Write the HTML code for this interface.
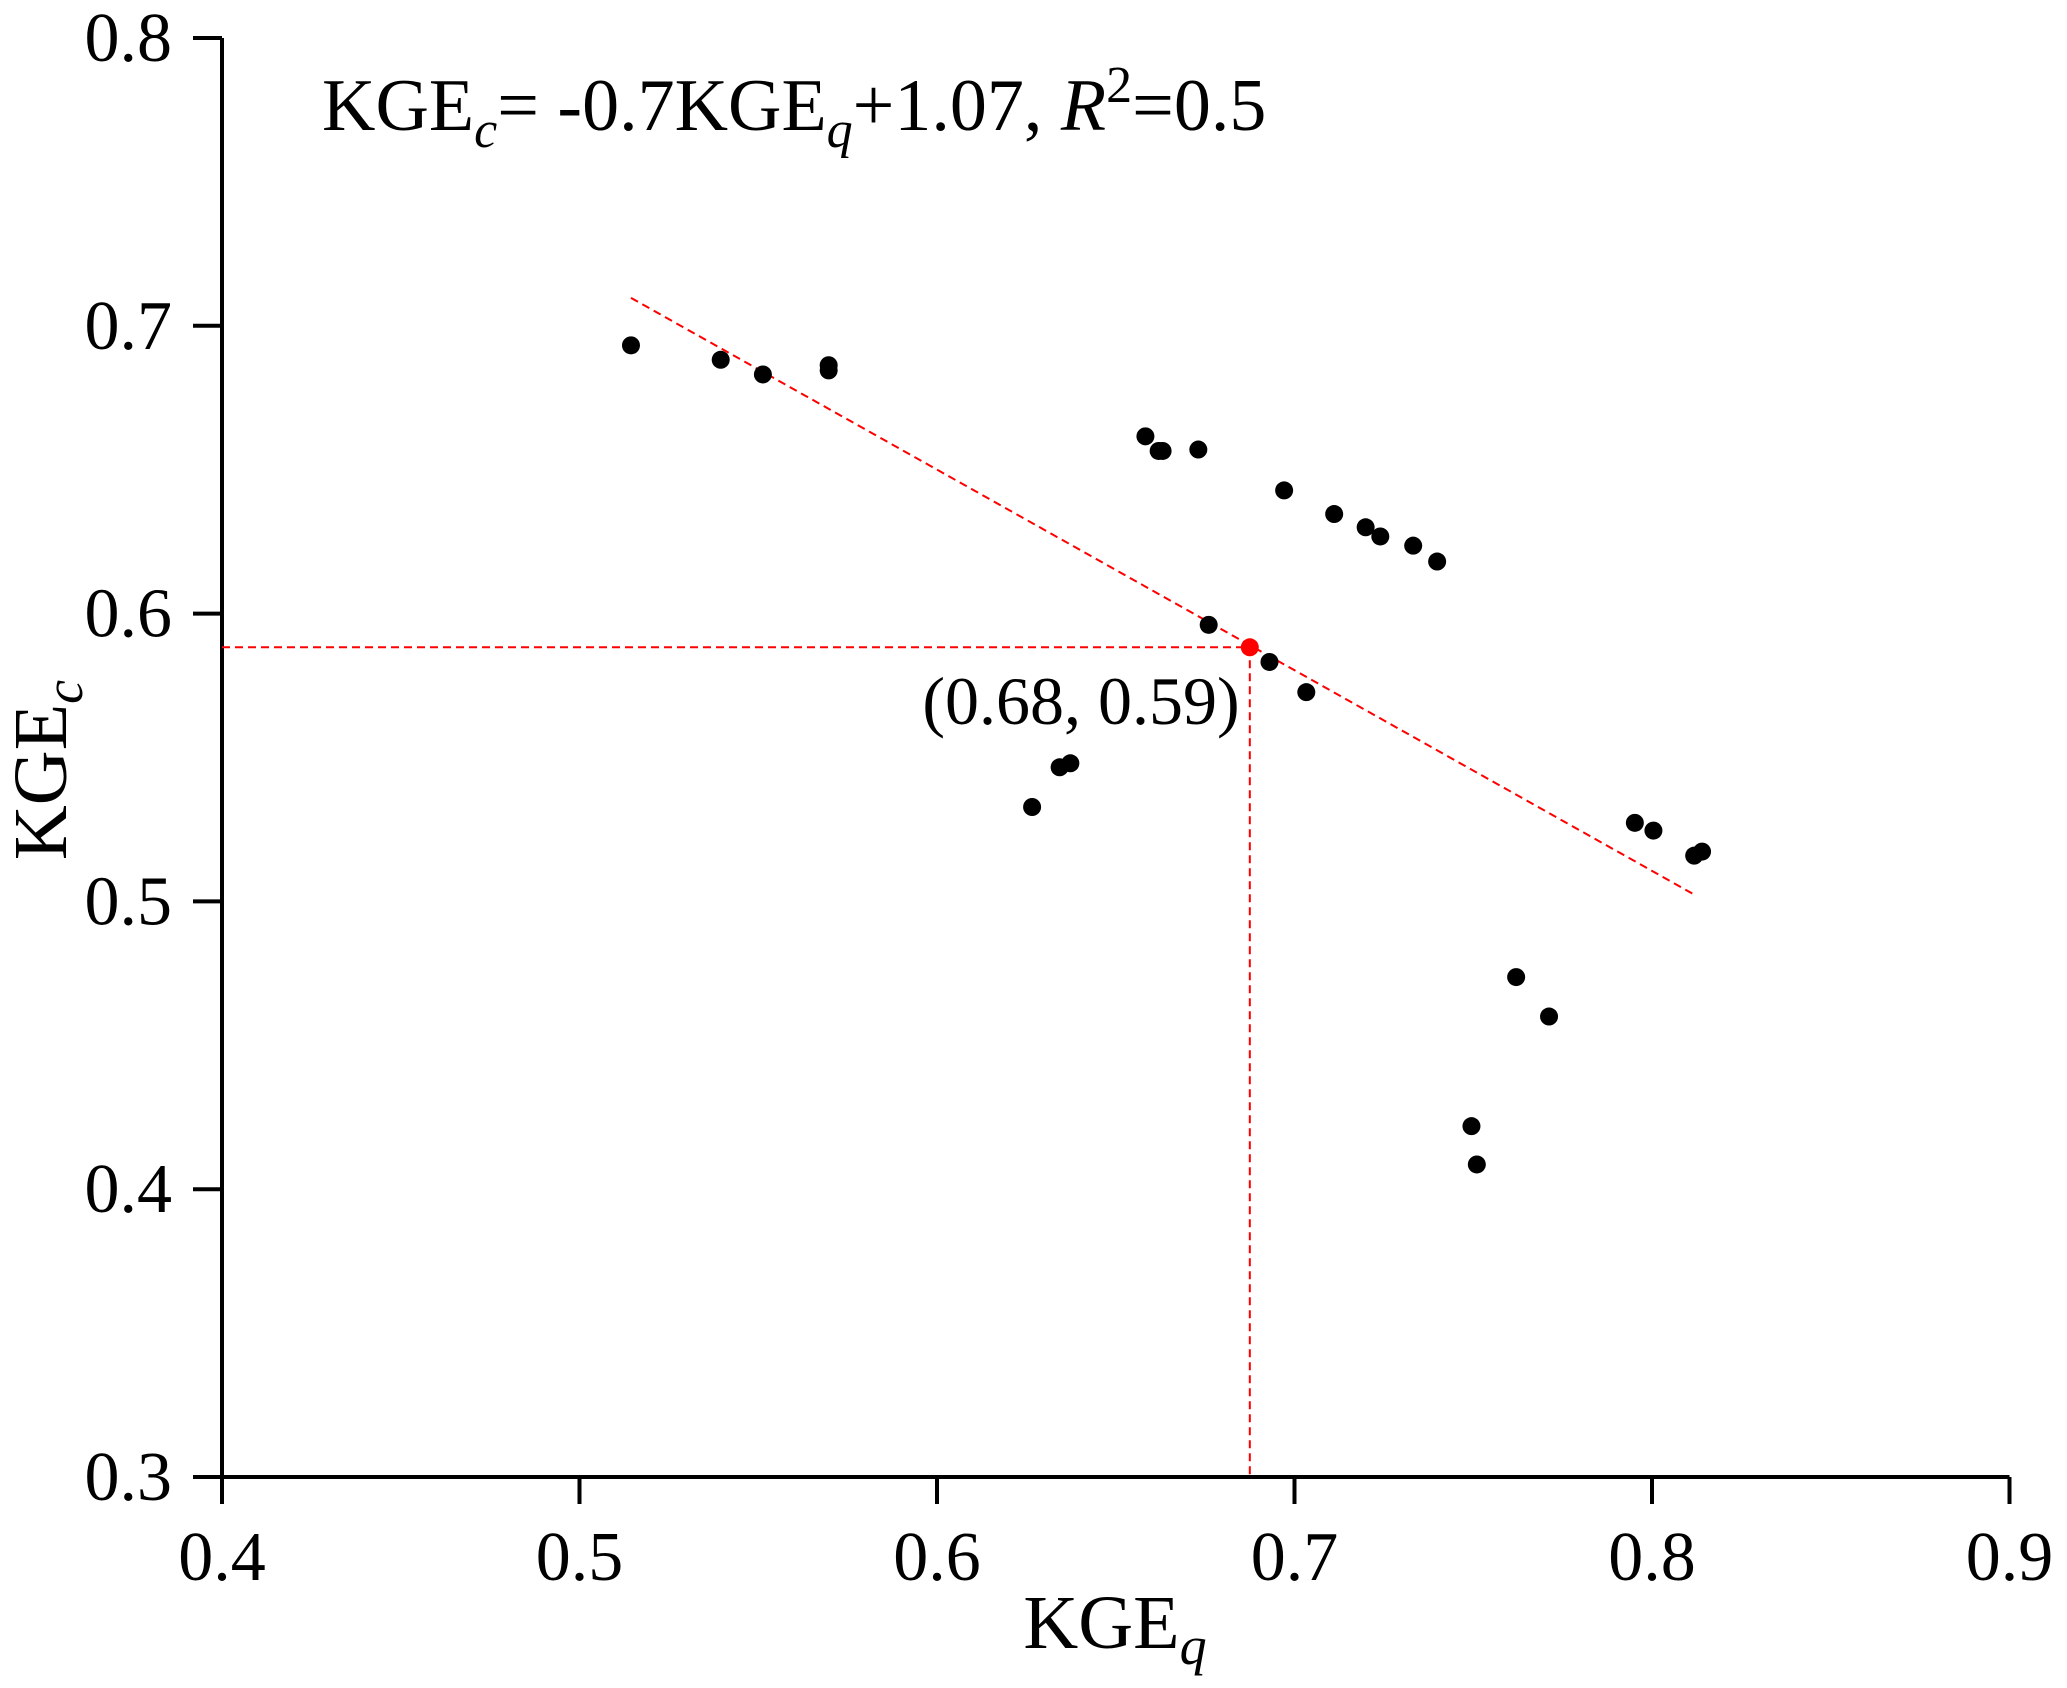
<!DOCTYPE html>
<html><head><meta charset="utf-8"><style>
html,body{margin:0;padding:0;background:#fff;}
svg{display:block;font-family:"Liberation Serif",serif;}
</style></head><body>
<svg id="chart" width="2067" height="1688" viewBox="0 0 2067 1688" xmlns="http://www.w3.org/2000/svg">
<g id="axes"></g>
<g id="lines"></g>
<g id="points"></g>
<text x="322" y="130" font-size="74">KGE<tspan font-style="italic" font-size="52" dy="17">c</tspan><tspan dy="-17">= -0.7KGE</tspan><tspan font-style="italic" font-size="52" dy="17">q</tspan><tspan dy="-17">+1.07, </tspan><tspan font-style="italic">R</tspan><tspan font-size="52" dy="-28">2</tspan><tspan dy="28">=0.5</tspan></text>
<text x="1081" y="724" font-size="68" text-anchor="middle">(0.68, 0.59)</text>
<text x="1115" y="1648" font-size="76" text-anchor="middle">KGE<tspan font-style="italic" font-size="54" dy="16">q</tspan></text>
<text transform="translate(66,770) rotate(-90)" font-size="76" text-anchor="middle">KGE<tspan font-style="italic" font-size="54" dy="16">c</tspan></text>
</svg>
<script>
const xTicks=[0.4,0.5,0.6,0.7,0.8,0.9];
const yTicks=[0.3,0.4,0.5,0.6,0.7,0.8];
const xTickLabels=["0.4","0.5","0.6","0.7","0.8","0.9"];
const yTickLabels=["0.3","0.4","0.5","0.6","0.7","0.8"];
const kgeQ=[0.5144,0.5395,0.5513,0.5697,0.5697,0.6583,0.662,0.6631,0.6731,0.6971,0.7111,0.7199,0.724,0.7332,0.7399,0.676,0.693,0.7033,0.6266,0.6343,0.6373,0.7952,0.8004,0.8118,0.814,0.762,0.7712,0.7495,0.751];
const kgeC=[0.6932,0.6882,0.6831,0.6863,0.6845,0.6616,0.6565,0.6565,0.657,0.6428,0.6346,0.630,0.6268,0.6236,0.6181,0.5961,0.5832,0.5727,0.5328,0.5466,0.548,0.5273,0.5246,0.5159,0.5173,0.4737,0.46,0.4219,0.4086];
const highlight=[0.6875,0.5883];
const fitX=[0.5144,0.8122];
const fitY=[0.7097,0.5021];

const X=v=>222+(v-0.4)*3575;
const Y=v=>1477-(v-0.3)*2878;
const NS="http://www.w3.org/2000/svg";
function mk(tag,attrs,parent){const e=document.createElementNS(NS,tag);for(const k in attrs)e.setAttribute(k,attrs[k]);parent.appendChild(e);return e;}
const axes=document.getElementById('axes');
let a=mk('line',{x1:X(0.4),y1:Y(0.3),x2:X(0.9),y2:Y(0.3),stroke:'#000','stroke-width':4},axes);


a=mk('line',{x1:X(0.4),y1:Y(0.3),x2:X(0.4),y2:Y(0.8),stroke:'#000','stroke-width':4},axes);


xTicks.forEach((t,i)=>{
 const l=mk('line',{x1:X(t),y1:Y(0.3),x2:X(t),y2:Y(0.3)+27,stroke:'#000','stroke-width':4},axes);
 
 
 const tx=mk('text',{x:X(t),y:1580,'font-size':70,'text-anchor':'middle'},axes);
 tx.textContent=xTickLabels[i];
 
 
});
yTicks.forEach((t,i)=>{
 const l=mk('line',{x1:X(0.4)-29,y1:Y(t),x2:X(0.4),y2:Y(t),stroke:'#000','stroke-width':4},axes);
 
 
 const tx=mk('text',{x:172,y:Y(t)+23,'font-size':70,'text-anchor':'end'},axes);
 tx.textContent=yTickLabels[i];
 
 
});
const lines=document.getElementById('lines');
let d=mk('line',{x1:X(fitX[0]),y1:Y(fitY[0]),x2:X(fitX[1]),y2:Y(fitY[1]),stroke:'#ff0000','stroke-width':2,'stroke-dasharray':'8,5'},lines);


d=mk('line',{x1:X(0.4),y1:Y(highlight[1]),x2:X(highlight[0]),y2:Y(highlight[1]),stroke:'#ff0000','stroke-width':2,'stroke-dasharray':'8,5'},lines);


d=mk('line',{x1:X(highlight[0]),y1:Y(highlight[1]),x2:X(highlight[0]),y2:Y(0.3),stroke:'#ff0000','stroke-width':2,'stroke-dasharray':'8,5'},lines);


const pts=document.getElementById('points');
kgeQ.forEach((q,i)=>{
 const c=mk('circle',{cx:X(q),cy:Y(kgeC[i]),r:9,fill:'#000'},pts);
 
 
});
const h=mk('circle',{cx:X(highlight[0]),cy:Y(highlight[1]),r:9,fill:'#ff0000'},pts);


</script>
</body></html>
